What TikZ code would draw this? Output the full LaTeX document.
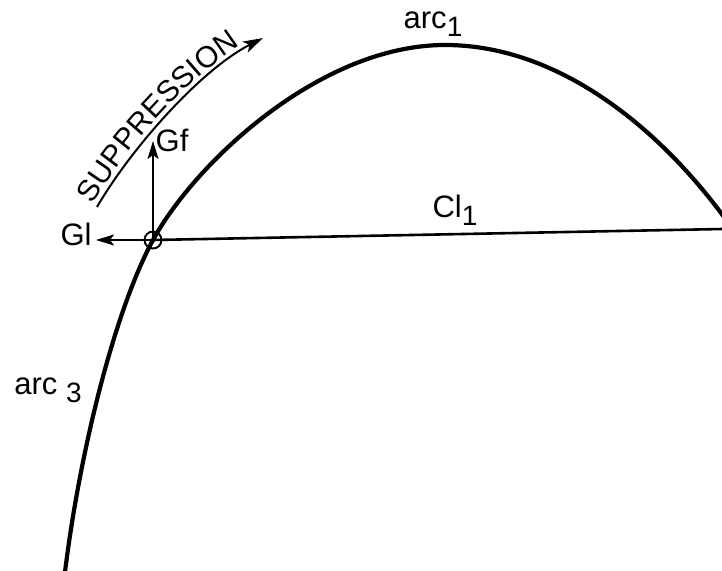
\documentclass[tikz,border=0pt]{standalone}
\usepackage{fontspec}
\setmainfont{Liberation Sans}
\usetikzlibrary{arrows.meta,decorations.text}
\tikzset{
  lbl/.style={inner sep=1pt,font=\fontsize{31}{33}\selectfont},
  mainarc/.style={line width=4.2pt,line cap=round},
  thinln/.style={line width=2.6pt},
  arr/.style={line width=2pt,-{Stealth[length=18pt,width=11pt,inset=4pt]}},
}
\newcommand{\lowsub}[1]{\raisebox{-8pt}{\fontsize{28}{30}\selectfont #1}}
\begin{document}
\begin{tikzpicture}[x=1pt,y=-1pt]
\useasboundingbox (0,0) rectangle (722,570);
% main curve
\draw[mainarc] (65,572) .. controls (80,450) and (115,310) .. (153,240)
  .. controls (195,163) and (320,45) .. (445,45)
  .. controls (560,45) and (660,130) .. (724,217);
% crossing circle
\node[draw,circle,line width=1.9pt,minimum size=17pt,inner sep=0pt] (c) at (153,240) {};
\coordinate (r) at (722,229);
\draw[thinln] (c.center) -- (r);
% labels
\node[lbl] (gl) at (76,234) {Gl};
\node[lbl] (gf) at (172,140) {Gf};
\coordinate (gftip) at (153,141);
\coordinate (gltip) at (96,240);
\draw[arr] (c.center) -- (gltip);
\draw[arr] (c.center) -- (gftip);
\node[lbl] (a1) at (433,24) {arc\lowsub{1}};
\node[lbl] (cl) at (455,210) {Cl\lowsub{1}};
\node[lbl] (a3) at (48,390) {arc \lowsub{3}};
% suppression arrow
\coordinate (s0) at (97,207);
\coordinate (s1) at (263,38);
\draw[line width=2pt,-{Stealth[length=20pt,width=12pt,inset=5pt]}] (s0) .. controls (130,150) and (200,70) .. (s1);
\path[decorate,decoration={text along path,raise=5pt,text align={left indent=0pt},
  text={|\fontsize{30}{30}\selectfont|SUPPRESSION}}] (s0) .. controls (130,150) and (200,70) .. (s1);
\end{tikzpicture}
\end{document}
